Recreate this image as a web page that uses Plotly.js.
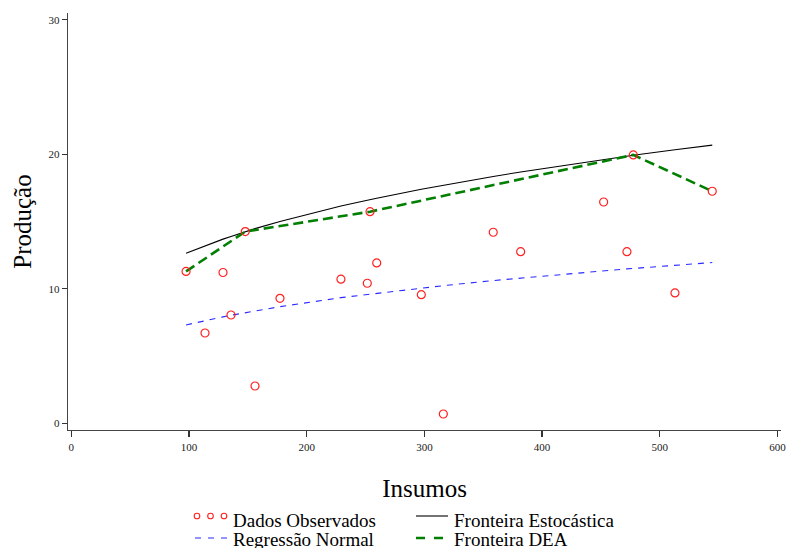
<!DOCTYPE html>
<html>
<head>
<meta charset="utf-8">
<script src="https://cdn.plot.ly/plotly-3.0.1.min.js"></script>
<style>
  html, body { margin: 0; padding: 0; background: #fff; }
  #chart { width: 788px; height: 549px; }
</style>
</head>
<body>
<div id="chart"></div>
<script>
// Observed input/output pairs
var insumos = [97.5, 113.6, 128.9, 135.7, 147.8, 156.1, 177.3, 229.1, 251.5, 253.8,
               259.5, 297.4, 316.1, 358.5, 381.8, 452.3, 472.1, 477.5, 512.9, 544.6];
var producao = [11.29, 6.71, 11.21, 8.05, 14.25, 2.77, 9.29, 10.71, 10.41, 15.73,
                11.92, 9.56, 0.69, 14.20, 12.76, 16.45, 12.76, 19.95, 9.69, 17.25];

// Stochastic frontier and ordinary regression evaluated at the observed inputs
var fronteiraEst = [12.64, 13.20, 13.69, 13.89, 14.24, 14.47, 15.00, 16.15, 16.58, 16.63,
                    16.73, 17.40, 17.70, 18.35, 18.68, 19.61, 19.86, 19.92, 20.33, 20.68];
var regressao = [7.31, 7.64, 7.91, 8.03, 8.23, 8.36, 8.67, 9.34, 9.58, 9.61,
                 9.67, 10.06, 10.23, 10.61, 10.80, 11.33, 11.48, 11.51, 11.75, 11.95];

// DEA frontier vertices
var deaX = [97.5, 147.8, 253.8, 477.5, 544.6];
var deaY = [11.29, 14.25, 15.73, 19.95, 17.25];

var xTicks = [0, 100, 200, 300, 400, 500, 600];
var yTicks = [0, 10, 20, 30];

var legendLabels = ['Dados Observados', 'Fronteira Estocástica', 'Regressão Normal', 'Fronteira DEA'];

var SERIF = 'Liberation Serif, Times New Roman, serif';
var W = 788, H = 549;
var M = { l: 68, r: 7, t: 13, b: 119 };
var PW = W - M.l - M.r, PH = H - M.t - M.b;
function px(x) { return (x - M.l) / PW; }
function py(y) { return (H - M.b - y) / PH; }

var traces = [
  {
    x: insumos, y: fronteiraEst, type: 'scatter', mode: 'lines',
    line: { color: '#000000', width: 1.1 }, name: legendLabels[1]
  },
  {
    x: insumos, y: regressao, type: 'scatter', mode: 'lines',
    line: { color: '#2b2bff', width: 1.1, dash: '6px,6px' }, name: legendLabels[2]
  },
  {
    x: deaX, y: deaY, type: 'scatter', mode: 'lines',
    line: { color: '#007f00', width: 2.6, dash: '10px,5px' }, name: legendLabels[3]
  },
  {
    x: insumos, y: producao, type: 'scatter', mode: 'markers',
    marker: { symbol: 'circle-open', size: 8, color: '#ff2020', line: { width: 1.2, color: '#ff2020' } },
    name: legendLabels[0]
  }
];

// Hand-built two-column key below the axis title
var rowA = 520, rowB = 539;
var shapes = [];
[197, 210.5, 224].forEach(function (cx) {
  shapes.push({
    type: 'circle', xref: 'paper', yref: 'paper',
    xsizemode: 'pixel', ysizemode: 'pixel',
    xanchor: px(cx), yanchor: py(rowA - 4),
    x0: -2.8, x1: 2.8, y0: -2.8, y1: 2.8,
    line: { color: '#ff2020', width: 1.1 }
  });
});
shapes.push({ type: 'line', xref: 'paper', yref: 'paper',
  x0: px(416), x1: px(448), y0: py(rowA - 4), y1: py(rowA - 4),
  line: { color: '#000', width: 1.1 } });
shapes.push({ type: 'line', xref: 'paper', yref: 'paper',
  x0: px(195), x1: px(228), y0: py(rowB - 1), y1: py(rowB - 1),
  line: { color: '#2b2bff', width: 1.1, dash: '6px,7px' } });
shapes.push({ type: 'line', xref: 'paper', yref: 'paper',
  x0: px(416), x1: px(444), y0: py(rowB - 1), y1: py(rowB - 1),
  line: { color: '#007f00', width: 2.6, dash: '9px,9px' } });

var legendPos = [[231, rowA], [452, rowA], [231, rowB], [452, rowB]];
var annotations = legendLabels.map(function (t, i) {
  return {
    text: t, xref: 'paper', yref: 'paper',
    x: px(legendPos[i][0]), y: py(legendPos[i][1]),
    xanchor: 'left', yanchor: 'middle', valign: 'middle',
    height: 18, showarrow: false,
    font: { family: SERIF, size: 19, color: '#000' }
  };
});

var layout = {
  width: W, height: H,
  margin: M,
  paper_bgcolor: '#ffffff', plot_bgcolor: '#ffffff',
  showlegend: false,
  font: { family: SERIF, color: '#222' },
  xaxis: {
    range: [-2.8, 603],
    tickvals: xTicks, ticktext: xTicks.map(String),
    ticks: 'outside', ticklen: 6, tickwidth: 1.2, tickcolor: '#333',
    showline: true, linecolor: '#444', linewidth: 1.4,
    showgrid: false, zeroline: false,
    tickfont: { family: SERIF, size: 11, color: '#222' },
    title: { text: 'Insumos', font: { family: SERIF, size: 25, color: '#000' }, standoff: 28 }
  },
  yaxis: {
    range: [-0.5, 30.5],
    tickvals: yTicks, ticktext: yTicks.map(String),
    ticks: 'outside', ticklen: 5, tickwidth: 1.2, tickcolor: '#333',
    showline: true, linecolor: '#444', linewidth: 1.4,
    showgrid: false, zeroline: false,
    tickfont: { family: SERIF, size: 11, color: '#222' },
    title: { text: 'Produção', font: { family: SERIF, size: 25, color: '#000' }, standoff: 9 }
  },
  shapes: shapes,
  annotations: annotations
};

Plotly.newPlot('chart', traces, layout, { staticPlot: true, displayModeBar: false });
</script>
</body>
</html>
